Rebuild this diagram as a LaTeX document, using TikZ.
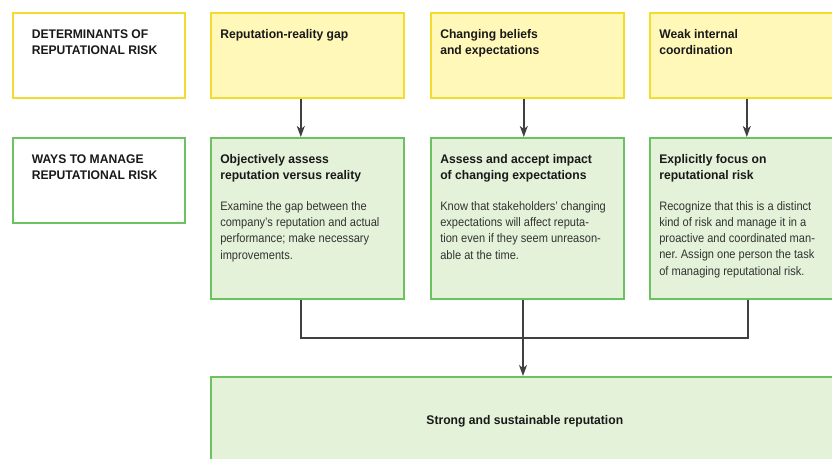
\documentclass[tikz,border=0pt]{standalone}
\usepackage{fontspec}
\setmainfont{Liberation Sans}[FakeStretch=0.9, BoldFeatures={FakeStretch=0.97}]
\usetikzlibrary{arrows.meta}
\usetikzlibrary{positioning}
\frenchspacing
\definecolor{riskyellow}{HTML}{F2DC2E}
\definecolor{riskyellowfill}{HTML}{FFF8B8}
\definecolor{riskgreen}{HTML}{6CC160}
\definecolor{riskgreenfill}{HTML}{E3F2D8}
\definecolor{linkgray}{HTML}{404040}
\definecolor{bodygray}{HTML}{333333}
\newcommand{\boxhead}[1]{{\bfseries\color{black!90}#1}}
\newcommand{\boxbody}[1]{{\color{bodygray}\fontsize{12.3}{16}\selectfont#1}}
\tikzset{
rowlabel/.style={draw, line width=1.6pt, fill=white, anchor=north west,
    minimum width=172pt, minimum height=85pt, inner sep=0pt},
determinant/.style={rowlabel, draw=riskyellow, fill=riskyellowfill, minimum width=193pt},
remedy/.style={rowlabel, draw=riskgreen, fill=riskgreenfill, minimum width=193pt, minimum height=161pt},
outcome/.style={rowlabel, draw=riskgreen, fill=riskgreenfill, minimum width=628pt, minimum height=88pt},
link/.style={draw=linkgray, line width=1.4pt},
linkarrow/.style={link, -{Stealth[length=11pt,width=8pt,inset=3pt]}},
}
\newcommand{\topbox}[3]{\parbox[t][#1][t]{#2}{\fontsize{12.5}{16.5}\selectfont\raggedright #3}}
\begin{document}
\begin{tikzpicture}[x=1pt,y=-1pt]
            \useasboundingbox (0,0) rectangle (832,458);
            \clip (0,0) rectangle (832,458);
            % first row
            \node[rowlabel, draw=riskyellow] (detlabel) at (12,12)
                {\hspace{16pt}\topbox{64pt}{150pt}{\vspace{6pt}\boxhead{DETERMINANTS OF\\ REPUTATIONAL RISK}}};
            \node[determinant] (gap) at (210,12)
                {\hspace{6pt}\topbox{64pt}{180pt}{\vspace{6pt}\boxhead{Reputation-reality gap}}};
            \node[determinant] (beliefs) at (430,12)
                {\hspace{6pt}\topbox{64pt}{180pt}{\vspace{6pt}\boxhead{Changing beliefs\\ and expectations}}};
            \node[determinant] (coord) at (649,12)
                {\hspace{6pt}\topbox{64pt}{180pt}{\vspace{6pt}\boxhead{Weak internal\\ coordination}}};
            % second row
            \node[rowlabel, draw=riskgreen] (waylabel) at (12,137)
                {\hspace{16pt}\topbox{64pt}{150pt}{\vspace{6pt}\boxhead{WAYS TO MANAGE\\ REPUTATIONAL RISK}}};
            \node[remedy] (assess) at (210,137)
                {\hspace{6pt}\topbox{140pt}{180pt}{\vspace{6pt}\boxhead{Objectively assess\\ reputation versus reality}\\[15pt]
                 \boxbody{Examine the gap between the\\ company's reputation and actual\\ performance; make necessary\\ improvements.}}};
            \node[remedy] (accept) at (430,137)
                {\hspace{6pt}\topbox{140pt}{180pt}{\vspace{6pt}\boxhead{Assess and accept impact\\ of changing expectations}\\[15pt]
                 \boxbody{Know that stakeholders' changing\\ expectations will affect reputa-\\tion even if they seem unreason-\\able at the time.}}};
            \node[remedy] (focus) at (649,137)
                {\hspace{6pt}\topbox{140pt}{180pt}{\vspace{6pt}\boxhead{Explicitly focus on\\ reputational risk}\\[15pt]
                 \boxbody{Recognize that this is a distinct\\ kind of risk and manage it in a\\ proactive and coordinated man-\\ner. Assign one person the task\\ of managing reputational risk.}}};
            % result
            \node[outcome, font=\bfseries\fontsize{12.5}{16}\selectfont] (result) at (210,376)
                {\color{black!90}Strong and sustainable reputation};
            \coordinate (join) at (523,338);
            % connectors
            \draw[linkarrow] ([xshift=-6.5pt]gap.south) -- ([xshift=-6.5pt]gap.south |- assess.north);
            \draw[linkarrow] ([xshift=-3.5pt]beliefs.south) -- ([xshift=-3.5pt]beliefs.south |- accept.north);
            \draw[linkarrow] ([xshift=0.5pt]coord.south) -- ([xshift=0.5pt]coord.south |- focus.north);
            \draw[link] ([xshift=-6.5pt]assess.south) |- (join);
            \draw[link] ([xshift=1.5pt]focus.south) |- (join);
            \draw[link] (join |- accept.south) -- (join);
            \draw[linkarrow] (join) -- (join |- result.north);
\end{tikzpicture}
\end{document}
